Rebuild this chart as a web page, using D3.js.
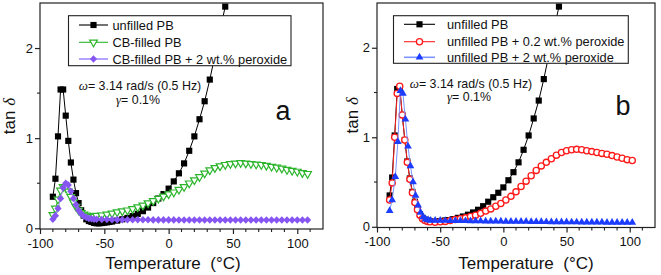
<!DOCTYPE html>
<html lang="en">
<head>
    <meta charset="UTF-8">
    <title>tan delta vs temperature</title>
    <script src="https://d3js.org/d3.v7.min.js"></script>
    <style>
        body { margin: 0; background: #fff; }
        svg text { font-family: "Liberation Sans", Arial, sans-serif; fill: #111; }
        .axis path, .axis line { stroke: #222; stroke-width: 1.2px; }
        .frame { fill: none; stroke: #222; stroke-width: 1.2px; }
    </style>
</head>
<body>
<script>
    // --- data ---
    const unfilledT = [-90, -88, -86, -84, -82, -80, -78, -76, -74, -72, -70, -68, -66, -64, -62, -60, -58, -56, -54, -52, -50, -48, -46, -44,
        -40, -36, -32, -28, -24, -20, -16, -12, -8, -4, 0, 4, 8, 12, 16, 20, 24, 28, 32, 36, 40, 44];
    const unfilledV = [0.35, 0.55, 1.02, 1.54, 1.54, 1.25, 0.97, 0.73, 0.54, 0.39, 0.28, 0.2, 0.14, 0.1, 0.08, 0.07, 0.06, 0.055, 0.055, 0.058, 0.062, 0.066, 0.07, 0.075,
        0.085, 0.1, 0.115, 0.135, 0.16, 0.19, 0.23, 0.28, 0.33, 0.38, 0.44, 0.52, 0.61, 0.72, 0.86, 1.02, 1.21, 1.41, 1.65, 1.92, 2.2, 2.46];

    // panel a
    const filledT = [-90, -88, -86, -84, -82, -80, -78, -76, -74, -72, -70, -68, -66, -64, -62, -60, -58,
        -56, -52, -48, -44, -40, -36, -32, -28, -24, -20, -16, -12, -8, -4, 0, 4, 8, 12, 16, 20, 24, 28, 32, 36, 40,
        44, 48, 52, 56, 60, 64, 68, 72, 76, 80, 84, 88, 92, 96, 100, 104, 108];
    const filledV = [0.15, 0.22, 0.32, 0.42, 0.46, 0.45, 0.41, 0.35, 0.29, 0.24, 0.2, 0.17, 0.155, 0.145, 0.135, 0.13, 0.13,
        0.14, 0.145, 0.155, 0.165, 0.18, 0.19, 0.2, 0.215, 0.235, 0.255, 0.28, 0.305, 0.33, 0.355, 0.38, 0.4, 0.43, 0.46, 0.5, 0.535, 0.57, 0.61, 0.645, 0.67,
        0.69, 0.705, 0.715, 0.72, 0.725, 0.72, 0.715, 0.71, 0.705, 0.695, 0.685, 0.675, 0.665, 0.65, 0.64, 0.63, 0.615, 0.605];

    const filledPerT = [-90, -88, -86, -84, -82, -80, -78, -76, -74, -72, -70, -68, -66, -64, -62, -60, -58,
        -56, -52, -48, -44, -40, -36, -32, -28, -24, -20, -16, -12, -8, -4, 0, 4, 8, 12, 16, 20, 24, 28, 32, 36, 40,
        44, 48, 52, 56, 60, 64, 68, 72, 76, 80, 84, 88, 92, 96, 100, 104, 108];
    const filledPerV = [0.1, 0.14, 0.22, 0.33, 0.45, 0.5, 0.48, 0.41, 0.33, 0.26, 0.2, 0.16, 0.135, 0.12, 0.11, 0.105, 0.1,
        0.1, 0.098, 0.097, 0.096, 0.096, 0.095, 0.095, 0.095, 0.094, 0.094, 0.094, 0.093, 0.093, 0.093, 0.093, 0.093, 0.092, 0.092, 0.092, 0.092, 0.092, 0.092, 0.092, 0.092, 0.092,
        0.092, 0.092, 0.092, 0.092, 0.092, 0.092, 0.092, 0.092, 0.092, 0.092, 0.092, 0.092, 0.092, 0.092, 0.092, 0.092, 0.092];

    // panel b
    const lowPerT = [-90, -88, -86, -84, -82, -80, -78, -76, -74, -72, -70, -68, -66, -64, -62, -60, -58,
        -54, -50, -46, -42, -38, -34, -30, -26, -22, -18, -14, -10, -6, -2, 2, 6, 10, 14, 18, 22, 26, 30, 34, 38,
        42, 46, 50, 54, 58, 62, 66, 70, 74, 78, 82, 86, 90, 94, 98, 102];
    const lowPerV = [0.3, 0.49, 1.0, 1.49, 1.57, 1.25, 0.97, 0.72, 0.53, 0.38, 0.27, 0.19, 0.13, 0.09, 0.07, 0.06, 0.055,
        0.05, 0.055, 0.06, 0.07, 0.08, 0.09, 0.1, 0.115, 0.13, 0.15, 0.175, 0.2, 0.23, 0.26, 0.3, 0.34, 0.39, 0.45, 0.51, 0.57, 0.63, 0.68, 0.72, 0.76,
        0.8, 0.83, 0.85, 0.86, 0.865, 0.86, 0.85, 0.84, 0.83, 0.82, 0.81, 0.795, 0.78, 0.765, 0.75, 0.74];

    const highPerT = [-90, -88, -85.5, -83.5, -81.5, -79.5, -77.5, -75.5, -73.5, -71.5, -69.5, -67.5, -65.5, -63.5, -61.5, -59.5, -57.5,
        -54, -50, -46, -42, -38, -34, -30, -26, -22, -18, -14, -10, -6, -2, 2, 6, 10, 14, 18, 22, 26, 30, 34, 38,
        42, 46, 50, 54, 58, 62, 66, 70, 74, 78, 82, 86, 90, 94, 98, 102];
    const highPerV = [0.18, 0.3, 0.56, 0.95, 1.52, 1.49, 1.2, 0.9, 0.68, 0.5, 0.35, 0.24, 0.16, 0.11, 0.085, 0.075, 0.07,
        0.07, 0.07, 0.069, 0.068, 0.068, 0.067, 0.066, 0.065, 0.065, 0.064, 0.063, 0.062, 0.062, 0.061, 0.06, 0.06, 0.059, 0.058, 0.058, 0.057, 0.056, 0.056, 0.055, 0.054,
        0.054, 0.053, 0.053, 0.052, 0.052, 0.051, 0.051, 0.05, 0.05, 0.05, 0.049, 0.049, 0.048, 0.048, 0.047, 0.047];

    const xTicks = [-100, -50, 0, 50, 100];
    const xMinor = [-90, -80, -70, -60, -40, -30, -20, -10, 10, 20, 30, 40, 60, 70, 80, 90, 110];
    const yTicks = [0, 1, 2];
    const yMinor = [0.5, 1.5];

    const svg = d3.select("body").append("svg")
        .attr("width", 661)
        .attr("height", 275);

    // marker shapes
    const squareSym = d3.symbol().type(d3.symbolSquare).size(38)();
    const triSym = d3.symbol().type(d3.symbolTriangle).size(26)();
    const diamondPath = "M0,-3.8L3.6,0L0,3.8L-3.6,0Z";

    const panels = [
        {
            left: 40, right: 323, bottom: 229, top: 3,
            letter: "a", letterX: 283, letterY: 120,
            noteX: 140, noteY1: 90, noteY2: 103.5,
            ytitleX: 15, xtitleX: 173,
            legend: {x0: 68.5, x1: 291, y0: 15.7, y1: 65.7, lineX0: 79, lineX1: 108, textX: 112.5, rows: [25, 42.3, 59]},
            series: [
                {name: "unfilled PB", t: unfilledT, v: unfilledV, line: "#000", marker: "square", color: "#000"},
                {name: "CB-filled PB", t: filledT, v: filledV, line: "#2cb52c", marker: "down", color: "#2cb52c"},
                {name: "CB-filled PB + 2 wt.% peroxide", t: filledPerT, v: filledPerV, line: "#a48cff", marker: "diamond", color: "#8655f2"}
            ]
        },
        {
            left: 377, right: 655, bottom: 227.5, top: 3,
            letter: "b", letterX: 623, letterY: 115,
            noteX: 471, noteY1: 87.5, noteY2: 101,
            ytitleX: 358, xtitleX: 526,
            legend: {x0: 393.5, x1: 628.3, y0: 15.7, y1: 63.3, lineX0: 404, lineX1: 435, textX: 447, rows: [24.3, 41.7, 57.3]},
            series: [
                {name: "unfilled PB", t: unfilledT, v: unfilledV, line: "#000", marker: "square", color: "#000"},
                {name: "unfilled PB + 0.2 wt.% peroxide", t: lowPerT, v: lowPerV, line: "#ff2020", marker: "circle", color: "#ff1a1a"},
                {name: "unfilled PB + 2 wt.% peroxide", t: highPerT, v: highPerV, line: "#7d95ff", marker: "up", color: "#1c3cff"}
            ]
        }
    ];

    function drawMarker(g, s, x, y) {
        if (s.marker === "square") {
            g.append("path").attr("d", squareSym).attr("transform", `translate(${x},${y})`).attr("fill", s.color);
        } else if (s.marker === "down") {
            g.append("path").attr("d", triSym).attr("transform", `translate(${x},${y}) rotate(180)`)
                .attr("fill", "#fff").attr("stroke", s.color).attr("stroke-width", 1.2);
        } else if (s.marker === "up") {
            g.append("path").attr("d", triSym).attr("transform", `translate(${x},${y})`).attr("fill", s.color);
        } else if (s.marker === "diamond") {
            g.append("path").attr("d", diamondPath).attr("transform", `translate(${x},${y})`).attr("fill", s.color);
        } else {
            g.append("circle").attr("cx", x).attr("cy", y).attr("r", 3.1)
                .attr("fill", "#fff").attr("stroke", s.color).attr("stroke-width", 1.3);
        }
    }

    panels.forEach(p => {
        const x = d3.scaleLinear().domain([-100, 120]).range([p.left, p.right]);
        const y = d3.scaleLinear().domain([-0.008, 2.5]).range([p.bottom, p.top]);
        const g = svg.append("g");

        // series
        p.series.forEach(s => {
            const pts = s.t.map((t, i) => [t, s.v[i]]);
            g.append("path").datum(pts)
                .attr("fill", "none")
                .attr("stroke", s.line)
                .attr("stroke-width", 1)
                .attr("d", d3.line().x(d => x(d[0])).y(d => y(d[1])));
            const mg = g.append("g");
            pts.forEach(d => drawMarker(mg, s, x(d[0]), y(d[1])));
        });

        // frame + axes
        g.append("rect").attr("class", "frame")
            .attr("x", p.left).attr("y", p.top)
            .attr("width", p.right - p.left).attr("height", p.bottom - p.top);

        const xAxis = g.append("g").attr("class", "axis")
            .attr("transform", `translate(0,${p.bottom})`)
            .call(d3.axisBottom(x).tickValues(xTicks).tickSize(5).tickSizeOuter(0).tickPadding(4.5).tickFormat(d => String(d)));
        xAxis.select(".domain").remove();
        xAxis.selectAll("text").style("font-size", "13px");
        xMinor.forEach(t => {
            g.append("line").attr("x1", x(t)).attr("x2", x(t))
                .attr("y1", p.bottom).attr("y2", p.bottom + 3)
                .attr("stroke", "#222").attr("stroke-width", 1.1);
        });

        const yAxis = g.append("g").attr("class", "axis")
            .attr("transform", `translate(${p.left},0)`)
            .call(d3.axisLeft(y).tickValues(yTicks).tickSize(5).tickSizeOuter(0).tickPadding(2).tickFormat(d => String(d)));
        yAxis.select(".domain").remove();
        yAxis.selectAll("text").style("font-size", "13px");
        yMinor.forEach(v => {
            g.append("line").attr("x1", p.left - 3).attr("x2", p.left)
                .attr("y1", y(v)).attr("y2", y(v))
                .attr("stroke", "#222").attr("stroke-width", 1.1);
        });

        // axis titles
        g.append("text")
            .attr("x", p.xtitleX).attr("y", 269)
            .attr("text-anchor", "middle")
            .style("font-size", "17px")
            .attr("xml:space", "preserve")
            .text("Temperature  (°C)");

        const yt = g.append("text")
            .attr("transform", `translate(${p.ytitleX},${(p.top + p.bottom) / 2}) rotate(-90)`)
            .attr("text-anchor", "middle")
            .style("font-size", "17px");
        yt.append("tspan").text("tan ");
        yt.append("tspan").style("font-style", "italic").style("font-family", "'Liberation Serif', serif").text("δ");

        // legend
        const L = p.legend;
        g.append("rect")
            .attr("x", L.x0).attr("y", L.y0)
            .attr("width", L.x1 - L.x0).attr("height", L.y1 - L.y0)
            .attr("fill", "#fff").attr("stroke", "#222").attr("stroke-width", 1.1);
        p.series.forEach((s, i) => {
            const ry = L.rows[i];
            g.append("line").attr("x1", L.lineX0).attr("x2", L.lineX1)
                .attr("y1", ry).attr("y2", ry)
                .attr("stroke", s.line).attr("stroke-width", s.marker === "diamond" || s.marker === "up" ? 1.6 : 1.1);
            drawMarker(g, s, (L.lineX0 + L.lineX1) / 2, ry);
            g.append("text").attr("x", L.textX).attr("y", ry + 4.6)
                .style("font-size", "12.8px")
                .text(s.name);
        });

        // measurement conditions
        const n1 = g.append("text").attr("x", p.noteX).attr("y", p.noteY1)
            .attr("text-anchor", "middle").style("font-size", "12.4px");
        n1.append("tspan").style("font-style", "italic").style("font-family", "'Liberation Serif', serif").style("font-size", "13px").text("ω");
        n1.append("tspan").text("= 3.14 rad/s (0.5 Hz)");
        const n2 = g.append("text").attr("x", p.noteX - 2).attr("y", p.noteY2)
            .attr("text-anchor", "middle").style("font-size", "12.4px");
        n2.append("tspan").style("font-style", "italic").style("font-family", "'Liberation Serif', serif").style("font-size", "13px").text("γ");
        n2.append("tspan").text("= 0.1%");

        // panel letter
        g.append("text").attr("x", p.letterX).attr("y", p.letterY)
            .attr("text-anchor", "middle")
            .style("font-size", "27px")
            .text(p.letter);
    });
</script>
</body>
</html>
